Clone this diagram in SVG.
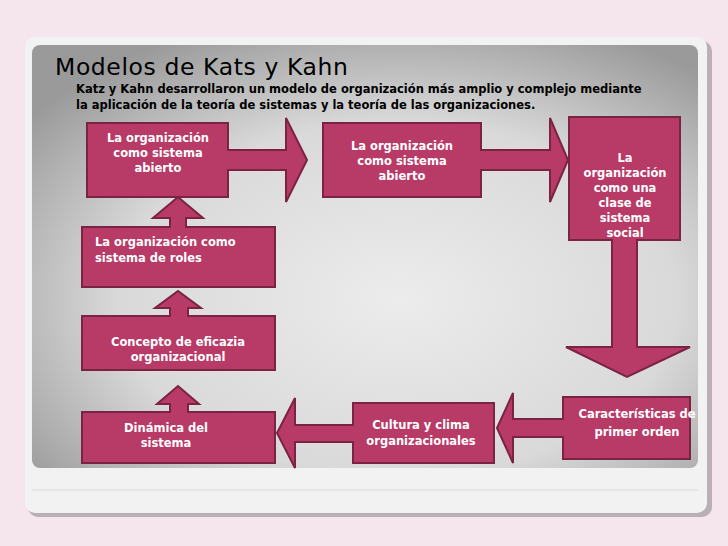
<svg xmlns="http://www.w3.org/2000/svg" width="728" height="546" viewBox="0 0 728 546">
<defs>
<radialGradient id="pg" cx="0.55" cy="0.6" r="0.7">
<stop offset="0" stop-color="#ececec"/><stop offset="0.6" stop-color="#d9d9d9"/><stop offset="1" stop-color="#9a9a9a"/>
</radialGradient>
<style>
.n{fill:#b83a66;stroke:#7a2343;stroke-width:2;stroke-linejoin:miter}
.t{fill:#fff;font-family:"DejaVu Sans",sans-serif;font-weight:bold;font-size:11.5px;text-anchor:middle}
.tl{fill:#fff;font-family:"DejaVu Sans",sans-serif;font-weight:bold;font-size:11.5px}
.h{font-family:"DejaVu Sans",sans-serif;fill:#000}
</style>
</defs>
<rect width="728" height="546" fill="#f5e6ee"/>
<rect x="28" y="41" width="684" height="476" rx="10" fill="#b8b0b4"/>
<rect x="25" y="37" width="682" height="476" rx="10" fill="#f2f2f2"/>
<line x1="32" y1="490" x2="698" y2="490" stroke="#dcdcdc"/>
<rect x="32" y="45" width="666" height="423" rx="8" fill="url(#pg)"/>
<text class="h" x="55" y="75" font-size="23.5" letter-spacing="0.6">Modelos de Kats y Kahn</text>
<text class="h" x="76" y="93" font-size="11.5" font-weight="bold">Katz y Kahn desarrollaron un modelo de organización más amplio y complejo mediante</text>
<text class="h" x="76" y="109" font-size="11.5" font-weight="bold">la aplicación de la teoría de sistemas y la teoría de las organizaciones.</text>
<g id="n1"><path class="n" d="M87,123 H228 V150 H286 V118 L307,160 L286,202 V170 H228 V197 H87 Z"/>
<text class="t" x="158" y="142">La organización</text><text class="t" x="158" y="157">como sistema</text><text class="t" x="158" y="172">abierto</text></g>
<g id="n2"><path class="n" d="M323,123 H481 V150 H550 V118 L568,160 L550,202 V170 H481 V197 H323 Z"/>
<text class="t" x="402" y="150">La organización</text><text class="t" x="402" y="165">como sistema</text><text class="t" x="402" y="180">abierto</text></g>
<g id="n3"><path class="n" d="M569,117 H680 V240 H637 V347 H690 L627,377 L566,347 H612 V240 H569 Z"/>
<text class="t" x="625" y="162">La</text><text class="t" x="625" y="177">organización</text><text class="t" x="625" y="192">como una</text><text class="t" x="625" y="207">clase de</text><text class="t" x="625" y="222">sistema</text><text class="t" x="625" y="237">social</text></g>
<g id="n4"><path class="n" d="M82,227 H170 V218 H153 L178,197 L203,218 H186 V227 H275 V287 H82 Z"/>
<text class="tl" x="95" y="246">La organización como</text><text class="tl" x="95" y="262">sistema de roles</text></g>
<g id="n5"><path class="n" d="M82,316 H170 V308 H155 L178,291 L201,308 H188 V316 H275 V370 H82 Z"/>
<text class="t" x="178" y="346">Concepto de eficazia</text><text class="t" x="178" y="361">organizacional</text></g>
<g id="n6"><path class="n" d="M82,412 H170 V404 H157 L178,386 L199,404 H188 V412 H275 V463 H82 Z"/>
<text class="t" x="166" y="432">Dinámica del</text><text class="t" x="166" y="447">sistema</text></g>
<g id="n7"><path class="n" d="M353,403 H494 V463 H353 V442 H295 V468 L277,433 L295,398 V425 H353 Z"/>
<text class="t" x="421" y="429">Cultura y clima</text><text class="t" x="421" y="445">organizacionales</text></g>
<g id="n8"><path class="n" d="M563,397 H690 V459 H563 V437 H513 V463 L497,428 L513,393 V419 H563 Z"/>
<text class="t" x="637" y="418">Características de</text><text class="t" x="637" y="436">primer orden</text></g>
<g id="connectors"></g>
</svg>
